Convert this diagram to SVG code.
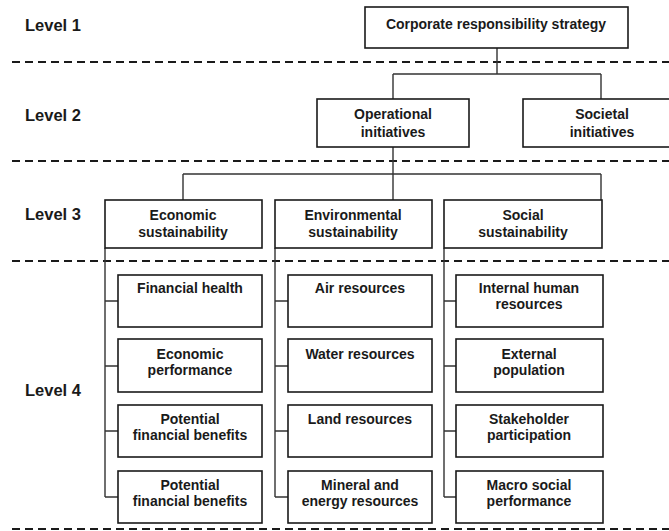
<svg xmlns="http://www.w3.org/2000/svg" width="669" height="531" viewBox="0 0 669 531">
<style>
text{font-family:"Liberation Sans",Arial,sans-serif;font-weight:bold;fill:#1a1a1a}
.lvl{font-size:16.5px}
.t{font-size:14px;text-anchor:middle}
.box{fill:#fff;stroke:#1a1a1a;stroke-width:1.6}
.dash{stroke:#1a1a1a;stroke-width:2;stroke-dasharray:8 5;fill:none}
.con{stroke:#333;stroke-width:1.4;fill:none}
</style>
<rect width="669" height="531" fill="#fff"/>
<g id="levels">
<text class="lvl" x="25" y="31">Level 1</text>
<text class="lvl" x="25" y="121">Level 2</text>
<text class="lvl" x="25" y="220">Level 3</text>
<text class="lvl" x="25" y="396">Level 4</text>
</g>
<g id="dividers">
<line class="dash" x1="12" y1="62" x2="669" y2="62"/>
<line class="dash" x1="12" y1="161" x2="669" y2="161"/>
<line class="dash" x1="12" y1="261" x2="669" y2="261"/>
<line class="dash" x1="12" y1="529" x2="669" y2="529"/>
</g>
<g id="connectors">
<path class="con" d="M497 48V74M393 74H601M393 74V99M601 74V99"/>
<path class="con" d="M393 147V200M183 174H601M183 174V200M601 174V200"/>
<path class="con" d="M105 248V497M105 301H118M105 366H118M105 431H118M105 497H118"/>
<path class="con" d="M275 248V497M275 301H288M275 366H288M275 431H288M275 497H288"/>
<path class="con" d="M444 248V497M444 301H456M444 366H456M444 431H456M444 497H456"/>
</g>
<g id="n-corporate"><rect class="box" x="365" y="7" width="263" height="41"/><text class="t" x="496" y="29">Corporate responsibility strategy</text></g>
<g id="n-operational"><rect class="box" x="317" y="99" width="152" height="48"/><text class="t" x="393" y="119">Operational</text><text class="t" x="393" y="137">initiatives</text></g>
<g id="n-societal"><rect class="box" x="523" y="99" width="160" height="48"/><text class="t" x="602" y="119">Societal</text><text class="t" x="602" y="137">initiatives</text></g>
<g id="n-economic"><rect class="box" x="105" y="200" width="157" height="48"/><text class="t" x="183" y="220">Economic</text><text class="t" x="183" y="237">sustainability</text></g>
<g id="n-environmental"><rect class="box" x="275" y="200" width="157" height="48"/><text class="t" x="353" y="220">Environmental</text><text class="t" x="353" y="237">sustainability</text></g>
<g id="n-social"><rect class="box" x="444" y="200" width="158" height="48"/><text class="t" x="523" y="220">Social</text><text class="t" x="523" y="237">sustainability</text></g>
<g id="n-fin-health"><rect class="box" x="118" y="275" width="144" height="52"/><text class="t" x="190" y="293">Financial health</text></g>
<g id="n-econ-perf"><rect class="box" x="118" y="339" width="144" height="53"/><text class="t" x="190" y="359">Economic</text><text class="t" x="190" y="375">performance</text></g>
<g id="n-pot-fin-1"><rect class="box" x="118" y="405" width="144" height="52"/><text class="t" x="190" y="424">Potential</text><text class="t" x="190" y="440">financial benefits</text></g>
<g id="n-pot-fin-2"><rect class="box" x="118" y="471" width="144" height="52"/><text class="t" x="190" y="490">Potential</text><text class="t" x="190" y="506">financial benefits</text></g>
<g id="n-air"><rect class="box" x="288" y="275" width="144" height="52"/><text class="t" x="360" y="293">Air resources</text></g>
<g id="n-water"><rect class="box" x="288" y="339" width="144" height="53"/><text class="t" x="360" y="359">Water resources</text></g>
<g id="n-land"><rect class="box" x="288" y="405" width="144" height="52"/><text class="t" x="360" y="424">Land resources</text></g>
<g id="n-mineral"><rect class="box" x="288" y="471" width="144" height="52"/><text class="t" x="360" y="490">Mineral and</text><text class="t" x="360" y="506">energy resources</text></g>
<g id="n-internal"><rect class="box" x="456" y="275" width="147" height="52"/><text class="t" x="529" y="293">Internal human</text><text class="t" x="529" y="309">resources</text></g>
<g id="n-external"><rect class="box" x="456" y="339" width="147" height="53"/><text class="t" x="529" y="359">External</text><text class="t" x="529" y="375">population</text></g>
<g id="n-stakeholder"><rect class="box" x="456" y="405" width="147" height="52"/><text class="t" x="529" y="424">Stakeholder</text><text class="t" x="529" y="440">participation</text></g>
<g id="n-macro"><rect class="box" x="456" y="471" width="147" height="52"/><text class="t" x="529" y="490">Macro social</text><text class="t" x="529" y="506">performance</text></g>
</svg>
